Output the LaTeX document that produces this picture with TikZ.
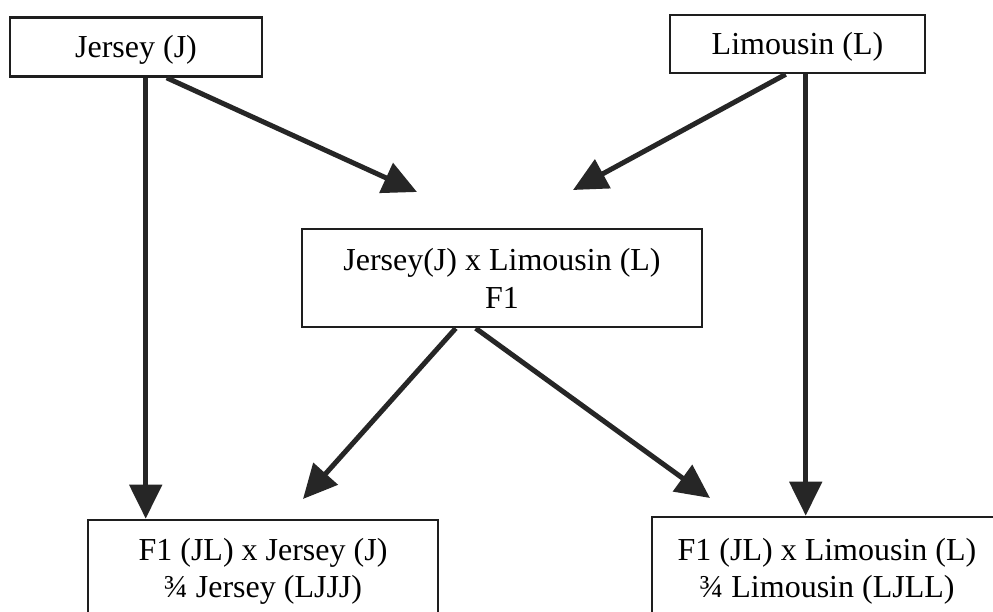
\documentclass[tikz,border=0pt]{standalone}
\usepackage{fontspec}
\setmainfont{Liberation Serif}
\usetikzlibrary{arrows.meta,calc}
\definecolor{boxcol}{HTML}{1E1E1E}
\definecolor{arrcol}{HTML}{262626}
\begin{document}
\begin{tikzpicture}[x=1pt,y=-1pt,
  box/.style={draw=boxcol, line width=2.6pt, fill=white, inner sep=0pt, align=center,
    font=\fontsize{32}{37}\selectfont},
  onebox/.style={box, text height=22pt, text depth=0pt},
  arr/.style={draw=arrcol, line width=5pt, -{Triangle[length=34pt,width=32pt]}}]
\useasboundingbox (0,0) rectangle (993,612);
\fill[white] (0,0) rectangle (993,612);
% boxes
\node[onebox, minimum width=252pt, minimum height=59pt] (J) at (136,47) {Jersey (J)};
\node[onebox, minimum width=255pt, minimum height=58pt] (L) at (797.5,44) {Limousin (L)};
\node[box, minimum width=400pt, minimum height=98pt, font=\fontsize{32}{38}\selectfont] (M) at (502,278) {Jersey(J) x Limousin (L)\\F1};
\node[box, minimum width=350pt, minimum height=102pt] (BL) at (263,571) {F1 (JL) x Jersey (J)\\¾ Jersey (LJJJ)};
\node[box, minimum width=420pt, minimum height=108pt] (BR) at (862,571) {F1 (JL) x Limousin (L)\hspace*{70pt}\\¾ Limousin (LJLL)\hspace*{70pt}};
% free ends of arrows
\coordinate (t1) at (417,192);
\coordinate (t2) at (573,190);
\coordinate (t3) at (303,499);
\coordinate (t4) at (710,498);
% connectors
\draw[arr] ($(J.south west)+(137,0)$) -- ($(BL.north west)+(59,0)$);
\draw[arr] ($(J.south west)+(158,0)$) -- (t1);
\draw[arr] ($(L.south west)+(117,0)$) -- (t2);
\draw[arr] ($(L.south west)+(137,0)$) -- ($(BR.north west)+(155,0)$);
\draw[arr] ($(M.south west)+(155,0)$) -- (t3);
\draw[arr] ($(M.south west)+(175,0)$) -- (t4);
\end{tikzpicture}
\end{document}
